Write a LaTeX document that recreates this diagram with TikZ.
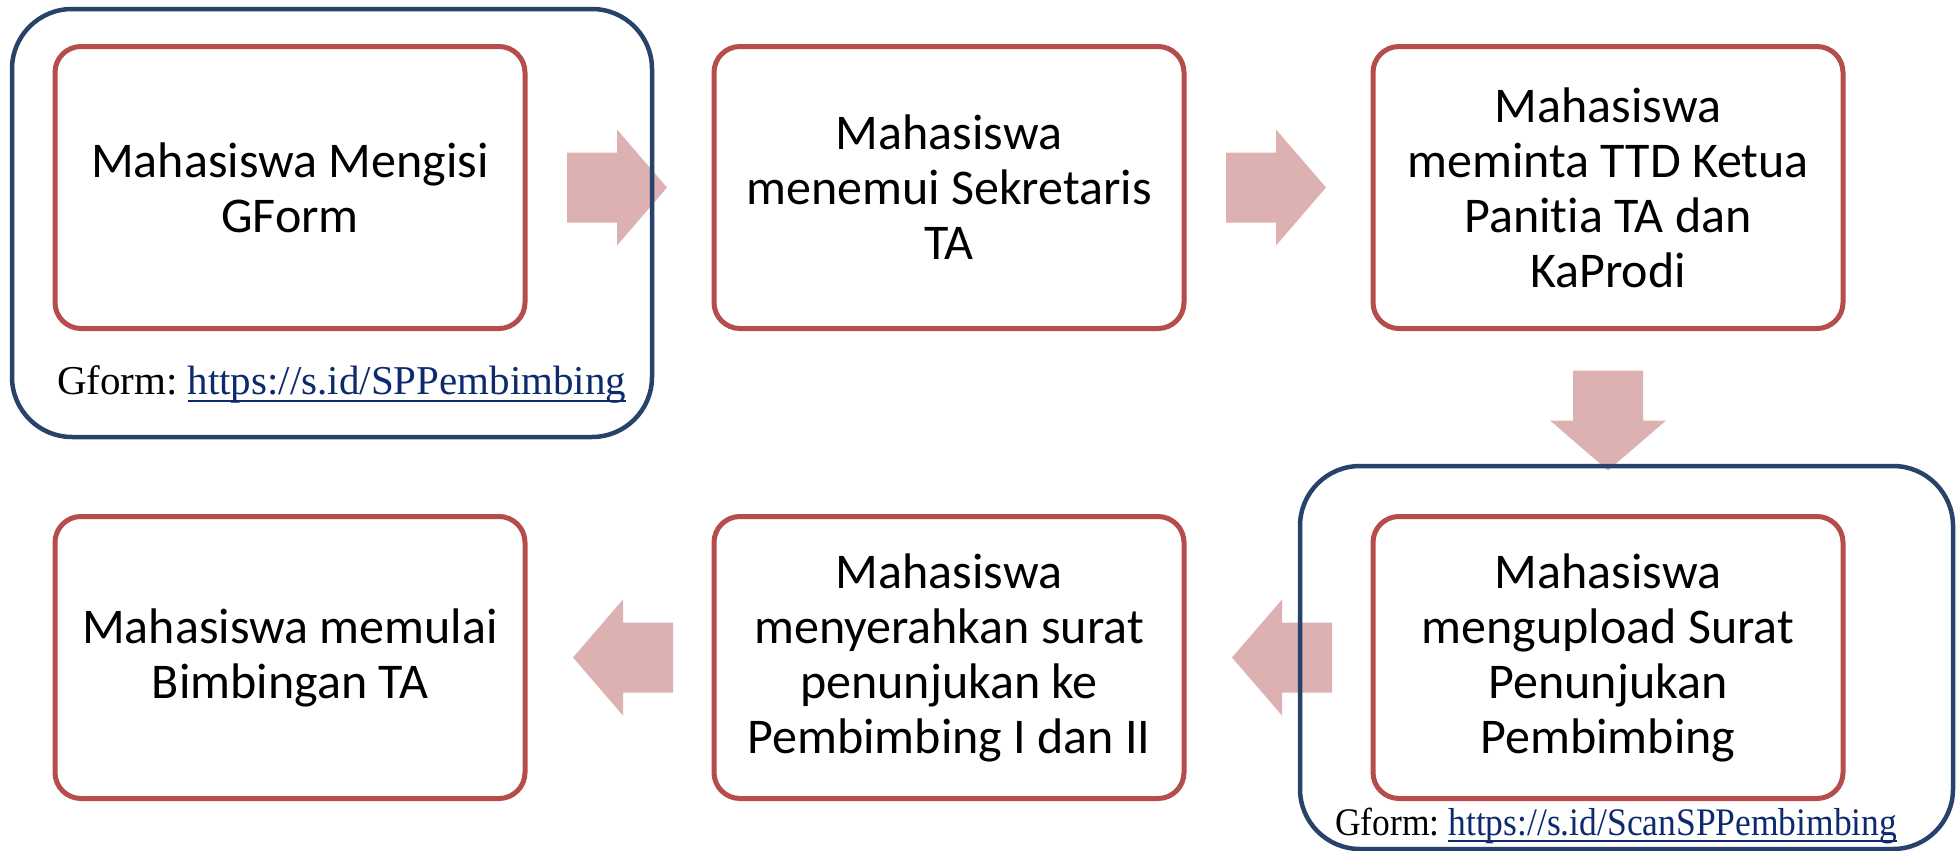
\documentclass[tikz,border=0pt]{standalone}
\usepackage{fontspec}
\setmainfont{Carlito}[Ligatures={NoCommon}]
\newfontfamily\linkfont{Liberation Serif}
\usetikzlibrary{calc,backgrounds}

\definecolor{boxred}{HTML}{B64D4A}
\definecolor{frameblue}{HTML}{27436A}
\definecolor{arrowpink}{HTML}{DDB1B1}
\definecolor{linkblue}{HTML}{0E2A6E}

\tikzset{
  stepbox/.style={draw=boxred, line width=2.5pt, rounded corners=13pt, fill=white,
    minimum width=235pt, minimum height=141pt, align=center, inner sep=0pt, outer sep=0pt,
    font=\fontsize{25}{27.5}\selectfont},
  groupframe/.style={draw=frameblue, line width=2.25pt, rounded corners=30pt},
  blockarrow/.style={fill=arrowpink},
  formlabel/.style={anchor=base west, inner sep=0pt, outer sep=0pt},
  linkline/.style={draw=linkblue, line width=1pt},
}

% block arrow: starts at #1, points in direction #2 (degrees)
\newcommand\flowarrow[2]{%
  \fill[blockarrow, shift={(#1)}, rotate=#2]
    (0,-35) -- (50,-35) -- (50,-58) -- (100,0) -- (50,58) -- (50,35) -- (0,35) -- cycle;}

\begin{document}
\begin{tikzpicture}[x=0.5pt, y=-0.5pt]
  \useasboundingbox (0,0) rectangle (1960,851);

  % process steps
  \node[stepbox] (b1) at (290,187.5) {Mahasiswa Mengisi\\GForm};
  \node[stepbox] (b2) at (949,187.5) {Mahasiswa\\menemui Sekretaris\\TA};
  \node[stepbox] (b3) at (1608,187.5) {Mahasiswa\\meminta TTD Ketua\\Panitia TA dan\\KaProdi};
  \node[stepbox] (b4) at (1608,657.5) {Mahasiswa\\mengupload Surat\\Penunjukan\\Pembimbing};
  \node[stepbox] (b5) at (949,657.5) {Mahasiswa\\menyerahkan surat\\penunjukan ke\\Pembimbing I dan II};
  \node[stepbox] (b6) at (290,657.5) {Mahasiswa memulai\\Bimbingan TA};

  % arrows between the steps
  \begin{scope}[on background layer]
    \fill[white] (0,0) rectangle (1960,851);
    \flowarrow{$(b1.east)+(42,0)$}{0}
    \flowarrow{$(b2.east)+(42,0)$}{0}
    \flowarrow{$(b3.south)+(0,42)$}{-90}
    \flowarrow{$(b4.west)+(-41,0)$}{180}
    \flowarrow{$(b5.west)+(-41,0)$}{180}
  \end{scope}

  % frames around the steps that use a form
  \draw[groupframe] (12,9) rectangle (652,437);
  \draw[groupframe] (1300,466) rectangle (1953,849);

  % form links
  \node[formlabel, font=\linkfont\fontsize{20.5}{24}\selectfont] (g1) at (57,394) {Gform:};
  \node[formlabel, font=\linkfont\fontsize{20.5}{24}\selectfont, text=linkblue] (l1)
    at ($(g1.base east)+(10,0)$) {https://s.id/SPPembimbing};
  \draw[linkline] ($(l1.base west)+(0,6.5)$) -- ($(l1.base east)+(0,6.5)$);

  \node[formlabel, font=\linkfont\fontsize{19.5}{23}\selectfont] (g2) at (1335,835)
    {\scalebox{0.91}[1]{Gform:}};
  \node[formlabel, font=\linkfont\fontsize{19.5}{23}\selectfont, text=linkblue] (l2)
    at ($(g2.base east)+(9,0)$) {\scalebox{0.91}[1]{https://s.id/ScanSPPembimbing}};
  \draw[linkline] ($(l2.base west)+(0,6)$) -- ($(l2.base east)+(0,6)$);
\end{tikzpicture}
\end{document}
